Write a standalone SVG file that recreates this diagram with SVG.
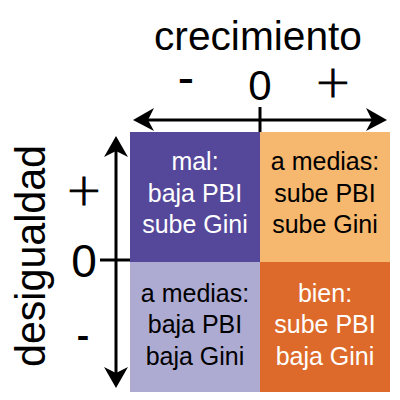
<svg xmlns="http://www.w3.org/2000/svg" width="400" height="400" viewBox="0 0 400 400">
<style>
text{font-family:"Liberation Sans",Arial,sans-serif;}
.q{font-size:25px;text-anchor:middle;}
.w{fill:#ffffff;}
.k{fill:#000000;}
.ax{font-size:42px;text-anchor:middle;fill:#000;}
.pl{font-family:"DejaVu Sans",sans-serif;font-weight:200;font-size:44px;text-anchor:middle;fill:#000;stroke:#000;stroke-width:0.9;}
.mi{font-size:34px;font-weight:bold;text-anchor:middle;fill:#000;}
.ln{stroke:#000;stroke-width:3;fill:none;}
.ah{fill:#000;}
</style>
<rect width="400" height="400" fill="#fff"/>
<g id="q-mal">
<rect x="130" y="132" width="130" height="130" fill="#55489A"/>
<text class="q w" x="195" y="170">mal:</text>
<text class="q w" x="195" y="202">baja PBI</text>
<text class="q w" x="195" y="233">sube Gini</text>
</g>
<g id="q-medias1">
<rect x="260" y="132" width="130" height="130" fill="#F5B86E"/>
<text class="q k" x="325" y="170">a medias:</text>
<text class="q k" x="325" y="202">sube PBI</text>
<text class="q k" x="325" y="233">sube Gini</text>
</g>
<g id="q-medias2">
<rect x="130" y="262" width="130" height="130" fill="#AEABD2"/>
<text class="q k" x="195" y="302">a medias:</text>
<text class="q k" x="195" y="333">baja PBI</text>
<text class="q k" x="195" y="365">baja Gini</text>
</g>
<g id="q-bien">
<rect x="260" y="262" width="130" height="130" fill="#DD6A2A"/>
<text class="q w" x="325" y="302">bien:</text>
<text class="q w" x="325" y="333">sube PBI</text>
<text class="q w" x="325" y="365">baja Gini</text>
</g>
<g id="axes">
<line class="ln" x1="145" y1="120" x2="375" y2="120"/>
<line class="ln" x1="260" y1="107" x2="260" y2="132"/>
<path class="ah" d="M133,120 L154,108 L148,120 L154,131 Z"/>
<path class="ah" d="M387,120 L366,108 L372,120 L366,131 Z"/>
<line class="ln" x1="116" y1="148" x2="116" y2="376"/>
<line class="ln" x1="100" y1="260" x2="130" y2="260"/>
<path class="ah" d="M116,136 L104,157 L116,151 L128,157 Z"/>
<path class="ah" d="M116,388 L104,367 L116,373 L128,367 Z"/>
</g>
<g id="labels">
<text x="258" y="50" font-size="40" text-anchor="middle" textLength="208" lengthAdjust="spacingAndGlyphs">crecimiento</text>
<text class="mi" transform="translate(186,90) scale(1.4,1)">-</text>
<text class="ax" x="260" y="100">0</text>
<text class="pl" x="333" y="97">+</text>
<text transform="translate(45,256) rotate(-90)" font-size="42" text-anchor="middle" textLength="222" lengthAdjust="spacingAndGlyphs">desigualdad</text>
<text class="pl" x="84" y="205">+</text>
<text class="ax" x="84" y="277" style="font-size:46px">0</text>
<text class="mi" transform="translate(83,347) scale(1.1,1)">-</text>
</g>
</svg>
